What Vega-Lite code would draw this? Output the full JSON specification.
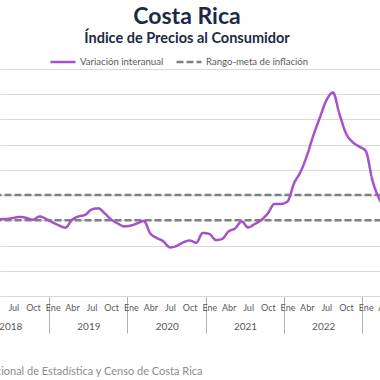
{
  "$schema": "https://vega.github.io/schema/vega-lite/v6.json",
  "width": 400,
  "height": 227,
  "autosize": {"type": "none"},
  "padding": {"left": 0, "right": -20, "top": 69, "bottom": 84},
  "background": "white",
  "config": {"view": {"stroke": null}, "font": "Lato"},
  "title": {
    "text": "Costa Rica",
    "subtitle": "Índice de Precios al Consumidor",
    "anchor": "middle",
    "frame": "group",
    "font": "Lato",
    "fontSize": 23,
    "fontWeight": "bold",
    "color": "#1c2b45",
    "subtitleFont": "Lato",
    "subtitleFontSize": 14.5,
    "subtitleFontWeight": "bold",
    "subtitleColor": "#1c2b45",
    "subtitlePadding": 3,
    "offset": 3,
    "dx": -13
  },
  "datasets": {
    "meta": [
      {"fecha": "2018-01-01", "valor": 4, "nivel": "superior", "serie": "Rango-meta de inflación"},
      {"fecha": "2023-12-01", "valor": 4, "nivel": "superior", "serie": "Rango-meta de inflación"},
      {"fecha": "2018-01-01", "valor": 2, "nivel": "inferior", "serie": "Rango-meta de inflación"},
      {"fecha": "2023-12-01", "valor": 2, "nivel": "inferior", "serie": "Rango-meta de inflación"}
    ],
    "ipc": [
      {"fecha": "2018-04-01", "valor": 2.0, "serie": "Variación interanual"},
      {"fecha": "2018-05-01", "valor": 2.09, "serie": "Variación interanual"},
      {"fecha": "2018-06-01", "valor": 2.11, "serie": "Variación interanual"},
      {"fecha": "2018-07-01", "valor": 2.19, "serie": "Variación interanual"},
      {"fecha": "2018-08-01", "valor": 2.27, "serie": "Variación interanual"},
      {"fecha": "2018-09-01", "valor": 2.19, "serie": "Variación interanual"},
      {"fecha": "2018-10-01", "valor": 2.05, "serie": "Variación interanual"},
      {"fecha": "2018-11-01", "valor": 2.31, "serie": "Variación interanual"},
      {"fecha": "2018-12-01", "valor": 2.11, "serie": "Variación interanual"},
      {"fecha": "2019-01-01", "valor": 1.83, "serie": "Variación interanual"},
      {"fecha": "2019-02-01", "valor": 1.59, "serie": "Variación interanual"},
      {"fecha": "2019-03-01", "valor": 1.42, "serie": "Variación interanual"},
      {"fecha": "2019-04-01", "valor": 2.03, "serie": "Variación interanual"},
      {"fecha": "2019-05-01", "valor": 2.31, "serie": "Variación interanual"},
      {"fecha": "2019-06-01", "valor": 2.43, "serie": "Variación interanual"},
      {"fecha": "2019-07-01", "valor": 2.85, "serie": "Variación interanual"},
      {"fecha": "2019-08-01", "valor": 2.95, "serie": "Variación interanual"},
      {"fecha": "2019-09-01", "valor": 2.55, "serie": "Variación interanual"},
      {"fecha": "2019-10-01", "valor": 2.07, "serie": "Variación interanual"},
      {"fecha": "2019-11-01", "valor": 1.75, "serie": "Variación interanual"},
      {"fecha": "2019-12-01", "valor": 1.52, "serie": "Variación interanual"},
      {"fecha": "2020-01-01", "valor": 1.59, "serie": "Variación interanual"},
      {"fecha": "2020-02-01", "valor": 1.77, "serie": "Variación interanual"},
      {"fecha": "2020-03-01", "valor": 1.95, "serie": "Variación interanual"},
      {"fecha": "2020-04-01", "valor": 0.95, "serie": "Variación interanual"},
      {"fecha": "2020-05-01", "valor": 0.6, "serie": "Variación interanual"},
      {"fecha": "2020-06-01", "valor": 0.33, "serie": "Variación interanual"},
      {"fecha": "2020-07-01", "valor": -0.15, "serie": "Variación interanual"},
      {"fecha": "2020-08-01", "valor": -0.03, "serie": "Variación interanual"},
      {"fecha": "2020-09-01", "valor": 0.25, "serie": "Variación interanual"},
      {"fecha": "2020-10-01", "valor": 0.4, "serie": "Variación interanual"},
      {"fecha": "2020-11-01", "valor": 0.22, "serie": "Variación interanual"},
      {"fecha": "2020-12-01", "valor": 1.0, "serie": "Variación interanual"},
      {"fecha": "2021-01-01", "valor": 0.92, "serie": "Variación interanual"},
      {"fecha": "2021-02-01", "valor": 0.44, "serie": "Variación interanual"},
      {"fecha": "2021-03-01", "valor": 0.52, "serie": "Variación interanual"},
      {"fecha": "2021-04-01", "valor": 1.12, "serie": "Variación interanual"},
      {"fecha": "2021-05-01", "valor": 1.36, "serie": "Variación interanual"},
      {"fecha": "2021-06-01", "valor": 1.9, "serie": "Variación interanual"},
      {"fecha": "2021-07-01", "valor": 1.44, "serie": "Variación interanual"},
      {"fecha": "2021-08-01", "valor": 1.71, "serie": "Variación interanual"},
      {"fecha": "2021-09-01", "valor": 2.03, "serie": "Variación interanual"},
      {"fecha": "2021-10-01", "valor": 2.55, "serie": "Variación interanual"},
      {"fecha": "2021-11-01", "valor": 3.3, "serie": "Variación interanual"},
      {"fecha": "2021-12-01", "valor": 3.3, "serie": "Variación interanual"},
      {"fecha": "2022-01-01", "valor": 3.5, "serie": "Variación interanual"},
      {"fecha": "2022-02-01", "valor": 4.96, "serie": "Variación interanual"},
      {"fecha": "2022-03-01", "valor": 5.78, "serie": "Variación interanual"},
      {"fecha": "2022-04-01", "valor": 7.1, "serie": "Variación interanual"},
      {"fecha": "2022-05-01", "valor": 8.7, "serie": "Variación interanual"},
      {"fecha": "2022-06-01", "valor": 10.15, "serie": "Variación interanual"},
      {"fecha": "2022-07-01", "valor": 11.5, "serie": "Variación interanual"},
      {"fecha": "2022-08-01", "valor": 12.13, "serie": "Variación interanual"},
      {"fecha": "2022-09-01", "valor": 10.4, "serie": "Variación interanual"},
      {"fecha": "2022-10-01", "valor": 8.9, "serie": "Variación interanual"},
      {"fecha": "2022-11-01", "valor": 8.2, "serie": "Variación interanual"},
      {"fecha": "2022-12-01", "valor": 7.85, "serie": "Variación interanual"},
      {"fecha": "2023-01-01", "valor": 7.5, "serie": "Variación interanual"},
      {"fecha": "2023-02-01", "valor": 5.2, "serie": "Variación interanual"},
      {"fecha": "2023-03-01", "valor": 3.85, "serie": "Variación interanual"},
      {"fecha": "2023-04-01", "valor": 2.9, "serie": "Variación interanual"}
    ]
  },
  "layer": [
    {
      "data": {"name": "meta"},
      "mark": {"type": "line", "strokeWidth": 2.5, "clip": true},
      "encoding": {
        "x": {
          "field": "fecha",
          "type": "temporal",
          "scale": {"type": "utc", "domain": [{"year": 2018, "month": 4, "date": 30, "utc": true}, {"year": 2023, "month": 6, "date": 10, "utc": true}]},
          "axis": {
            "orient": "bottom",
            "values": [
              {"year": 2018, "month": 6, "date": 16, "hours": 12, "utc": true},
              {"year": 2019, "month": 6, "date": 16, "hours": 12, "utc": true},
              {"year": 2020, "month": 6, "date": 16, "hours": 12, "utc": true},
              {"year": 2021, "month": 6, "date": 16, "hours": 12, "utc": true},
              {"year": 2022, "month": 6, "date": 16, "hours": 12, "utc": true}
            ],
            "labelExpr": "utcyear(datum.value)",
            "ticks": true,
            "tickSize": 37,
            "tickOffset": 39,
            "tickColor": "#b0b0b0",
            "tickWidth": 1,
            "domain": false,
            "grid": false,
            "labelOffset": -39,
            "labelPadding": -12,
            "labelFont": "Lato",
            "labelFontSize": 10,
            "labelColor": "#595959",
            "labelOverlap": false,
            "labelBound": false,
            "labelFlush": false,
            "title": "Fuente: Instituto Nacional de Estadística y Censo de Costa Rica",
            "titleX": 202,
            "titleY": 75,
            "titleAlign": "right",
            "titleBaseline": "middle",
            "titleFont": "Lato",
            "titleFontSize": 11,
            "titleFontWeight": "normal",
            "titleColor": "#8c8c8c"
          }
        },
        "y": {
          "field": "valor",
          "type": "quantitative",
          "scale": {"domain": [-4, 14], "nice": false, "zero": false},
          "axis": {"values": [-4, -2, 0, 2, 4, 6, 8, 10, 12, 14], "grid": true, "gridColor": "#d9d9d9", "labels": false, "ticks": false, "domain": false, "title": null}
        },
        "detail": {"field": "nivel"},
        "color": {
          "field": "serie",
          "type": "nominal",
          "scale": {"domain": ["Variación interanual", "Rango-meta de inflación"], "range": ["#a552c8", "#808080"]},
          "legend": {"orient": "none", "legendX": 49, "legendY": -21, "direction": "horizontal", "title": null, "symbolType": "stroke", "symbolSize": 625, "symbolStrokeWidth": 2.5, "labelFont": "Lato", "labelFontSize": 9.6, "labelColor": "#595959", "columnPadding": 7, "labelOffset": 3, "padding": 0}
        },
        "strokeDash": {
          "field": "serie",
          "type": "nominal",
          "scale": {"domain": ["Variación interanual", "Rango-meta de inflación"], "range": [[1, 0], [7, 3]]},
          "legend": {"orient": "none", "legendX": 49, "legendY": -21, "direction": "horizontal", "title": null, "symbolType": "stroke", "symbolSize": 625, "symbolStrokeWidth": 2.5, "labelFont": "Lato", "labelFontSize": 9.6, "labelColor": "#595959", "columnPadding": 7, "labelOffset": 3, "padding": 0}
        }
      }
    },
    {
      "data": {"name": "ipc"},
      "mark": {"type": "line", "strokeWidth": 2.5, "clip": true, "interpolate": "monotone"},
      "encoding": {
        "x": {
          "field": "fecha",
          "type": "temporal",
          "scale": {"type": "utc", "domain": [{"year": 2018, "month": 4, "date": 30, "utc": true}, {"year": 2023, "month": 6, "date": 10, "utc": true}]},
          "axis": {
            "orient": "bottom",
            "values": [
              {"year": 2018, "month": 1, "date": 1, "utc": true}, {"year": 2018, "month": 4, "date": 1, "utc": true}, {"year": 2018, "month": 7, "date": 1, "utc": true}, {"year": 2018, "month": 10, "date": 1, "utc": true},
              {"year": 2019, "month": 1, "date": 1, "utc": true}, {"year": 2019, "month": 4, "date": 1, "utc": true}, {"year": 2019, "month": 7, "date": 1, "utc": true}, {"year": 2019, "month": 10, "date": 1, "utc": true},
              {"year": 2020, "month": 1, "date": 1, "utc": true}, {"year": 2020, "month": 4, "date": 1, "utc": true}, {"year": 2020, "month": 7, "date": 1, "utc": true}, {"year": 2020, "month": 10, "date": 1, "utc": true},
              {"year": 2021, "month": 1, "date": 1, "utc": true}, {"year": 2021, "month": 4, "date": 1, "utc": true}, {"year": 2021, "month": 7, "date": 1, "utc": true}, {"year": 2021, "month": 10, "date": 1, "utc": true},
              {"year": 2022, "month": 1, "date": 1, "utc": true}, {"year": 2022, "month": 4, "date": 1, "utc": true}, {"year": 2022, "month": 7, "date": 1, "utc": true}, {"year": 2022, "month": 10, "date": 1, "utc": true},
              {"year": 2023, "month": 1, "date": 1, "utc": true}, {"year": 2023, "month": 4, "date": 1, "utc": true}
            ],
            "labelExpr": "['Ene','Feb','Mar','Abr','May','Jun','Jul','Ago','Sep','Oct','Nov','Dic'][utcmonth(datum.value)]",
            "ticks": false,
            "domain": true,
            "domainColor": "#d9d9d9",
            "grid": false,
            "labelPadding": 7,
            "labelFont": "Lato",
            "labelFontSize": 9,
            "labelColor": "#595959",
            "labelOverlap": false,
            "labelBound": false,
            "labelFlush": false,
            "title": null
          }
        },
        "y": {
          "field": "valor",
          "type": "quantitative",
          "scale": {"domain": [-4, 14], "nice": false, "zero": false},
          "axis": {"values": [-4, -2, 0, 2, 4, 6, 8, 10, 12, 14], "grid": true, "gridColor": "#d9d9d9", "labels": false, "ticks": false, "domain": false, "title": null}
        },
        "color": {"field": "serie", "type": "nominal"},
        "strokeDash": {"field": "serie", "type": "nominal"}
      }
    }
  ],
  "resolve": {"axis": {"x": "independent"}}
}
